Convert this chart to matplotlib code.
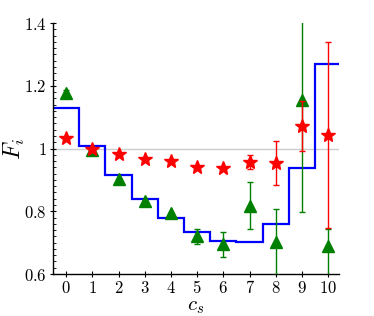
import matplotlib
matplotlib.use("Agg")
import matplotlib.pyplot as plt
import numpy as np
from matplotlib.ticker import MultipleLocator, FixedLocator

plt.rcParams['mathtext.fontset'] = 'cm'
plt.rcParams['font.family'] = 'serif'
plt.rcParams['font.serif'] = ['DejaVu Serif']

cs = np.arange(11)

# blue step levels (one per c_s bin)
step_vals = [1.130, 1.009, 0.915, 0.839, 0.778, 0.733, 0.704, 0.701, 0.760, 0.937, 1.270]

# red stars
red_y = [1.033, 1.000, 0.984, 0.966, 0.960, 0.942, 0.938, 0.958, 0.955, 1.072, 1.043]
red_err = [0, 0, 0, 0, 0, 0, 0, 0.022, 0.070, 0.080, 0.297]

# green triangles (lower / upper errors)
green_y = [1.176, 0.995, 0.902, 0.833, 0.794, 0.721, 0.695, 0.818, 0.703, 1.155, 0.689]
green_lo = [0.010, 0, 0, 0, 0, 0.024, 0.040, 0.075, 0.105, 0.356, 0.100]
green_hi = [0.010, 0, 0, 0, 0, 0.024, 0.040, 0.075, 0.105, 0.356, 0.054]

fig = plt.figure(figsize=(3.74, 3.16), dpi=100)
ax = fig.add_axes([0.1417, 0.1329, 0.7639, 0.7941])

ax.axhline(1.0, color='#cccccc', lw=1.0, zorder=1)

edges = np.arange(-0.5, 11.0, 1.0)
ax.stairs(step_vals, edges, baseline=None, color='blue', lw=1.6, zorder=2)

ax.errorbar(cs, green_y, yerr=[green_lo, green_hi], fmt='^', color='green', ms=8,
            capsize=2.5, elinewidth=1.0, capthick=1.0, zorder=3)
ax.errorbar(cs, red_y, yerr=red_err, fmt='*', color='red', ms=10,
            capsize=2.5, elinewidth=1.0, capthick=1.0, zorder=4)

ax.set_xlim(-0.5, 10.4)
ax.set_ylim(0.6, 1.4)

ax.xaxis.set_major_locator(FixedLocator(cs))
ax.set_xticklabels([r'$%d$' % v for v in cs])
ax.set_yticks([0.6, 0.8, 1.0, 1.2, 1.4])
ax.set_yticklabels([r'$0.6$', r'$0.8$', r'$1$', r'$1.2$', r'$1.4$'])
ax.yaxis.set_minor_locator(MultipleLocator(0.02))

ax.tick_params(axis='x', which='major', labelsize=12, direction='inout', length=4, width=0.8, pad=2)
ax.tick_params(axis='y', which='major', labelsize=12, direction='inout', length=5, width=0.8, pad=2)
ax.tick_params(axis='y', which='minor', direction='in', length=2, width=0.6)

for s in ['top', 'right']:
    ax.spines[s].set_visible(False)
for s in ['left', 'bottom']:
    ax.spines[s].set_linewidth(1.0)

ax.set_xlabel(r'$c_s$', fontsize=15, labelpad=0)
ax.set_ylabel(r'$F_i$', fontsize=17, labelpad=-2)

fig.savefig('out.png', dpi=100)
